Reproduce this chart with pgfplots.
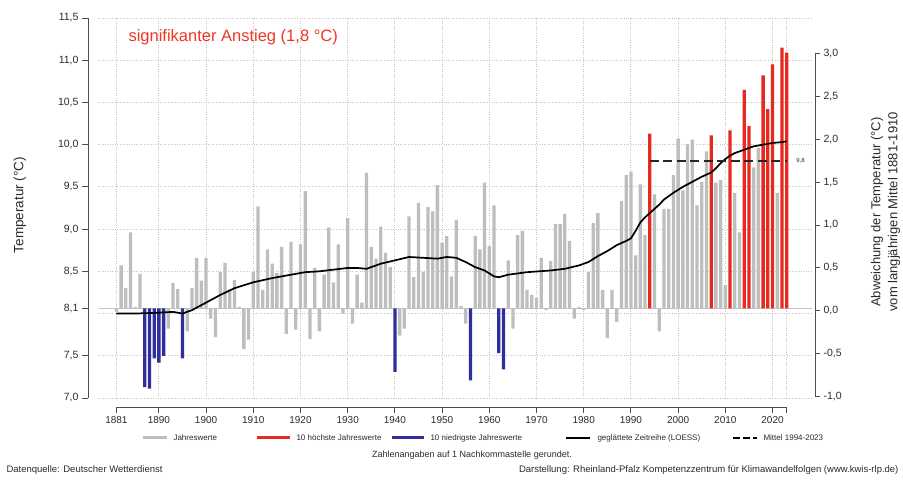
\documentclass[border=0pt]{standalone}
\usepackage{fontspec}
\setmainfont{Liberation Sans}
\usepackage{pgfplots}
\usepackage{pgfplotstable}
\pgfplotsset{compat=1.18}

\definecolor{jwgray}{HTML}{BEBEBE}
\definecolor{jwred}{HTML}{E8291F}
\definecolor{jwblue}{HTML}{2F2F9C}
\definecolor{axcol}{HTML}{4D4D4D}
\definecolor{gridcol}{HTML}{C4C4C4}
\definecolor{titlered}{HTML}{EE3524}
\definecolor{txtcol}{HTML}{2A2A2A}

% Jahresmitteltemperatur (°C), Mittel 1881-1910 = 8.06
\pgfplotstableread{
year T
1881 8.02
1882 8.57
1883 8.30
1884 8.96
1885 8.08
1886 8.47
1892 7.82
1893 8.36
1894 8.29
1896 7.79
1897 8.30
1898 8.66
1899 8.39
1900 8.66
1901 7.94
1902 7.72
1903 8.49
1904 8.60
1905 8.28
1906 8.40
1907 8.08
1908 7.58
1909 7.69
1910 8.49
1911 9.27
1912 8.28
1913 8.76
1914 8.59
1915 8.48
1916 8.79
1917 7.76
1918 8.85
1919 7.81
1920 8.82
1921 9.45
1922 7.70
1923 8.54
1924 7.79
1925 8.46
1926 9.02
1927 8.37
1928 8.82
1929 8.00
1930 9.13
1931 7.88
1932 8.46
1933 8.13
1934 9.67
1935 8.79
1936 8.65
1937 9.03
1938 8.72
1939 8.55
1941 7.74
1942 7.82
1943 9.15
1944 8.43
1945 9.31
1946 8.49
1947 9.26
1948 9.21
1949 9.52
1950 8.84
1951 8.92
1952 8.44
1953 9.11
1954 8.09
1955 7.88
1957 8.92
1958 8.76
1959 9.55
1960 8.80
1961 9.28
1964 8.63
1965 7.82
1966 8.93
1967 8.98
1968 8.28
1969 8.22
1970 8.19
1971 8.66
1972 8.04
1973 8.62
1974 9.06
1975 9.06
1976 9.18
1977 8.86
1978 7.94
1979 8.08
1980 8.04
1981 8.49
1982 9.07
1983 9.19
1984 8.28
1985 7.71
1986 8.28
1987 7.90
1988 9.33
1989 9.64
1990 9.68
1991 8.69
1992 9.53
1993 8.93
1995 9.41
1996 7.79
1997 9.24
1998 9.24
1999 9.64
2000 10.07
2001 9.46
2002 10.01
2003 10.06
2004 9.28
2005 9.56
2006 9.92
2008 9.55
2009 9.58
2010 8.34
2012 9.43
2013 8.96
2016 9.73
2017 9.96
2021 9.43
}\graydata

\pgfplotstableread{
year T
1994 10.13
2007 10.11
2011 10.17
2014 10.65
2015 10.22
2018 10.82
2019 10.42
2020 10.95
2022 11.15
2023 11.09
}\reddata

\pgfplotstableread{
year T
1887 7.13
1888 7.11
1889 7.47
1890 7.42
1891 7.50
1895 7.47
1940 7.31
1956 7.21
1962 7.53
1963 7.34
}\bluedata

\pgfplotstableread{
year T
1881 8.00
1885 8.00
1890 8.01
1893 8.02
1895 8.00
1897 8.04
1899 8.10
1901 8.16
1903 8.22
1906 8.30
1910 8.37
1914 8.42
1917 8.45
1921 8.49
1924 8.50
1927 8.52
1930 8.54
1932 8.54
1934 8.53
1937 8.59
1940 8.63
1943 8.67
1946 8.66
1949 8.65
1951 8.67
1953 8.66
1955 8.61
1957 8.55
1959 8.51
1961 8.44
1962 8.43
1964 8.46
1968 8.49
1973 8.51
1976 8.53
1979 8.57
1981 8.61
1983 8.68
1985 8.74
1987 8.81
1989 8.86
1990 8.89
1991 8.98
1992 9.08
1993 9.14
1994 9.19
1995 9.24
1996 9.29
1997 9.35
1998 9.39
1999 9.43
2001 9.50
2003 9.56
2005 9.62
2007 9.67
2008 9.72
2009 9.78
2010 9.83
2011 9.87
2012 9.90
2014 9.94
2016 9.98
2018 10.00
2020 10.02
2022 10.03
2023 10.04
}\loessdata

\pgfplotstableread{
year T
1994 9.81
2023 9.81
}\meandata

\newcommand{\tickfont}{\fontsize{10.5}{12}\selectfont}
\newcommand{\xtickfont}{\fontsize{10}{12}\selectfont}
\newcommand{\legfont}{\fontsize{8}{9.5}\selectfont}

\begin{document}
\begin{tikzpicture}
\path[use as bounding box] (0pt,0pt) rectangle (903pt,481pt);

% main data axis (y = deviation from 8.06 degC); left axis and year axis detached
\begin{axis}[
  at={(98pt,83pt)}, anchor=south west,
  scale only axis, width=714pt, height=380pt,
  xmin=1877.102, xmax=2028.36,
  ymin=-1.06, ymax=3.44,
  axis x line*=bottom, axis y line*=left,
  axis x line shift=9pt, axis y line shift=10pt,
  axis line style={-, axcol, line width=0.9pt},
  x axis line style={shorten <=18.4pt, shorten >=25.6pt},
  tick align=outside, major tick length=6pt,
  tick style={axcol, line width=0.9pt},
  xtick={1881,1890,1900,1910,1920,1930,1940,1950,1960,1970,1980,1990,2000,2010,2020,2023},
  xticklabels={1881,1890,1900,1910,1920,1930,1940,1950,1960,1970,1980,1990,2000,2010,2020,{}},
  ytick={-1.06,-0.56,0.44,0.94,1.44,1.94,2.44,2.94,3.44},
  yticklabels={{7,0},{7,5},{8,5},{9,0},{9,5},{10,0},{10,5},{11,0},{11,5}},
  extra y ticks={0}, extra y tick labels={8{,}1},
  extra y tick style={ymajorgrids=true, major grid style={solid, gridcol, line width=0.9pt}},
  minor ytick={-0.06}, yminorgrids, minor tick length=0pt,
  minor grid style={gridcol, dotted, line width=0.9pt},
  xmajorgrids, ymajorgrids,
  major grid style={gridcol, dotted, line width=0.9pt},
  y tick label style={font=\tickfont, text=txtcol},
  x tick label style={font=\xtickfont, text=txtcol},
  clip=false,
]
\addplot[ybar, bar width=3.3pt, bar shift=0pt, fill=jwgray, draw=none]
  table[x=year, y expr=\thisrow{T}-8.06] {\graydata};
\addplot[ybar, bar width=3.3pt, bar shift=0pt, fill=jwred, draw=none]
  table[x=year, y expr=\thisrow{T}-8.06] {\reddata};
\addplot[ybar, bar width=3.3pt, bar shift=0pt, fill=jwblue, draw=none]
  table[x=year, y expr=\thisrow{T}-8.06] {\bluedata};
\addplot[black, line width=1.7pt, line join=round]
  table[x=year, y expr=\thisrow{T}-8.06] {\loessdata};
\addplot[black!85, line width=2pt, dash pattern=on 9pt off 4.5pt]
  table[x=year, y expr=\thisrow{T}-8.06] {\meandata};
\node[anchor=west, font=\fontsize{6}{7}\selectfont, text=txtcol] at (axis cs:2024.3,1.75) {9,8};
\end{axis}

% right deviation axis
\begin{axis}[
  at={(98pt,84.3pt)}, anchor=south west,
  scale only axis, width=717pt, height=343.4pt,
  xmin=1877.102, xmax=2028.99,
  ymin=-1, ymax=3,
  axis y line*=right, axis x line=none,
  axis line style={-, axcol, line width=0.9pt},
  ytick={-1,-0.5,0,0.5,1,1.5,2,2.5,3},
  yticklabels={{-1,0},{-0,5},{0,0},{0,5},{1,0},{1,5},{2,0},{2,5},{3,0}},
  tick align=outside, major tick length=5pt,
  tick style={axcol, line width=0.9pt},
  tick label style={font=\tickfont, text=txtcol},
]
\addplot[draw=none, forget plot] table[x=year, y expr=\thisrow{T}-8.0] {\loessdata};
\end{axis}

% title
\node[anchor=base west, text=titlered, font=\fontsize{16.5}{19}\selectfont] at (125pt,439pt) {signifikanter Anstieg (1,8 °C)};

% axis titles
\node[rotate=90, anchor=center, font=\fontsize{13.5}{15}\selectfont, text=txtcol] at (20pt,276pt) {Temperatur (°C)};
\node[rotate=90, anchor=center, font=\fontsize{13}{15}\selectfont, text=txtcol] at (877pt,269pt) {Abweichung der Temperatur (°C)};
\node[rotate=90, anchor=center, font=\fontsize{13}{15}\selectfont, text=txtcol] at (894pt,269pt) {vom langjährigen Mittel 1881-1910};

% legend
\draw[jwgray, line width=3pt] (143pt,43pt) -- (167pt,43pt);
\node[anchor=west, font=\legfont, text=txtcol] at (170pt,43pt) {Jahreswerte};
\draw[jwred, line width=3pt] (257pt,43pt) -- (290pt,43pt);
\node[anchor=west, font=\legfont, text=txtcol] at (293pt,43pt) {10 höchste Jahreswerte};
\draw[jwblue, line width=3pt] (392pt,43pt) -- (424pt,43pt);
\node[anchor=west, font=\legfont, text=txtcol] at (427pt,43pt) {10 niedrigste Jahreswerte};
\draw[black, line width=1.7pt] (566pt,43pt) -- (590pt,43pt);
\node[anchor=west, font=\legfont, text=txtcol] at (594pt,43pt) {geglättete Zeitreihe (LOESS)};
\draw[black, line width=1.7pt, dash pattern=on 7pt off 3pt] (733pt,43pt) -- (757pt,43pt);
\node[anchor=west, font=\legfont, text=txtcol] at (760pt,43pt) {Mittel 1994-2023};

% notes
\node[anchor=center, font=\fontsize{9}{11}\selectfont, text=txtcol] at (472pt,26pt) {Zahlenangaben auf 1 Nachkommastelle gerundet.};
\node[anchor=west, font=\fontsize{9.5}{11}\selectfont, text=txtcol] at (3pt,11pt) {Datenquelle: Deutscher Wetterdienst};
\node[anchor=east, font=\fontsize{9.5}{11}\selectfont, text=txtcol] at (902pt,11pt) {Darstellung: Rheinland-Pfalz Kompetenzzentrum für Klimawandelfolgen (www.kwis-rlp.de)};
\end{tikzpicture}
\end{document}
